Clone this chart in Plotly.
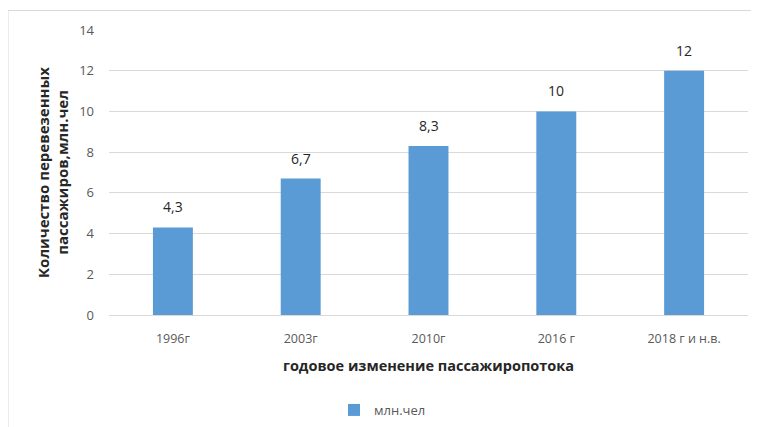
import plotly.graph_objects as go

categories = ["1996г", "2003г", "2010г", "2016 г", "2018 г и н.в."]
values = [4.3, 6.7, 8.3, 10, 12]
value_labels = ["4,3", "6,7", "8,3", "10", "12"]
series_name = "млн.чел"
y_ticks = [0, 2, 4, 6, 8, 10, 12, 14]

# page body has an 8px margin; lay out in screen coordinates minus that offset
O = 8
W, H = 759 - O, 427 - O
L, R, T, B = 109 - O, 11, 30 - O, 112
pw, ph = W - L - R, H - T - B

def px(x):
    return (x - O - L) / pw

def py(y):
    return (H + O - B - y) / ph

fig = go.Figure()
fig.add_trace(go.Bar(
    x=categories, y=values, name=series_name,
    marker=dict(color="#5B9BD5", line=dict(width=0)),
))

for c, v, t in zip(categories, values, value_labels):
    fig.add_annotation(x=c, y=v, text=t, showarrow=False, yanchor="bottom", yshift=9,
                       font=dict(family="Open Sans", size=14, color="#262626"))

fig.update_layout(
    width=W, height=H,
    margin=dict(l=L, r=R, t=T, b=B, autoexpand=False),
    paper_bgcolor="white", plot_bgcolor="white",
    font=dict(family="Open Sans", color="#595959"),
    bargap=0.6875,
    showlegend=True,
    legend=dict(orientation="h", x=px(334), xanchor="left", y=py(410), yanchor="middle",
                font=dict(size=13, color="#595959"), itemwidth=30),
    xaxis=dict(showgrid=False, showline=True, linecolor="#D9D9D9", linewidth=1,
               ticks="", tickfont=dict(size=12.5, color="#595959"), automargin=False,
               ticklabelstandoff=12,
               title=dict(text="<b>годовое изменение пассажиропотока</b>",
                          font=dict(size=14.5, color="#262626", family="Open Sans"), standoff=14)),
    yaxis=dict(range=[0, 14], tickvals=y_ticks, showgrid=True, gridcolor="#D9D9D9",
               zeroline=False, showline=False, ticks="", ticklabelstandoff=14,
               tickfont=dict(size=13, color="#595959"), automargin=False,
               title=dict(text="<b>Количество перевезенных<br>пассажиров,млн.чел</b>",
                          font=dict(size=15, color="#262626", family="Open Sans"), standoff=6)),
    shapes=[dict(type="rect", xref="paper", yref="paper",
                 x0=px(8), x1=px(765), y0=py(440), y1=py(10.5),
                 line=dict(color="#D9D9D9", width=1), fillcolor="rgba(0,0,0,0)", layer="below")],
)

fig.write_html("out.html")
